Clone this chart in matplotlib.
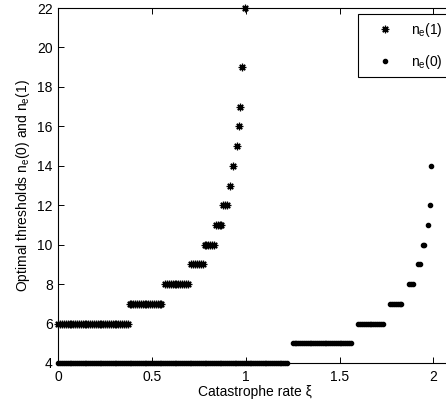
import numpy as np
import matplotlib
matplotlib.use("Agg")
import matplotlib.pyplot as plt
from matplotlib.markers import MarkerStyle

plt.rcParams['font.family'] = ['Liberation Sans', 'DejaVu Sans']
plt.rcParams['mathtext.fontset'] = 'custom'
plt.rcParams['mathtext.rm'] = 'Liberation Sans'
plt.rcParams['mathtext.it'] = 'Liberation Sans:italic'

# ---- data ----
step = 0.01  # sweep resolution of the catastrophe rate

# n_e(1): flat levels (level, first x, last x), then isolated points near xi = 1
ne1_levels = [6, 7, 8, 9, 10, 11, 12]
ne1_start = [0.00, 0.38, 0.57, 0.71, 0.78, 0.84, 0.88]
ne1_end = [0.37, 0.55, 0.69, 0.77, 0.83, 0.87, 0.90]
ne1_tail_x = [0.915, 0.933, 0.951, 0.962, 0.969, 0.981, 0.996]
ne1_tail_y = [13, 14, 15, 16, 17, 19, 22]

# n_e(0)
ne0_levels = [4, 5, 6, 7, 8]
ne0_start = [0.00, 1.25, 1.60, 1.77, 1.87]
ne0_end = [1.22, 1.56, 1.73, 1.83, 1.89]
ne0_tail_x = [1.92, 1.93, 1.945, 1.95, 1.97, 1.985, 1.99]
ne0_tail_y = [9, 9, 10, 10, 11, 12, 14]

x_ticks = [0, 0.5, 1, 1.5, 2]
x_ticklabels = ['0', '0.5', '1', '1.5', '2']
y_ticks = [4, 6, 8, 10, 12, 14, 16, 18, 20, 22]


def expand(levels, starts, ends, tx, ty):
    xs, ys = [], []
    for lv, a, b in zip(levels, starts, ends):
        n = int(round((b - a) / step)) + 1
        seg = a + step * np.arange(n)
        xs.extend(seg)
        ys.extend([lv] * n)
    xs.extend(tx)
    ys.extend(ty)
    return np.array(xs), np.array(ys)


x1, y1 = expand(ne1_levels, ne1_start, ne1_end, ne1_tail_x, ne1_tail_y)
x0, y0 = expand(ne0_levels, ne0_start, ne0_end, ne0_tail_x, ne0_tail_y)

W, H = 446, 409
fig = plt.figure(figsize=(W / 100, H / 100), dpi=100)
left, right, top, bottom = 58.3, 452.0, 8.0, 363.0
ax = fig.add_axes([left / W, 1 - bottom / H, (right - left) / W, (bottom - top) / H])

ast = MarkerStyle((8, 2, 0))
ax.plot(x1, y1, linestyle='none', marker=ast, markersize=5.4, markeredgewidth=0.9,
        color='black', clip_on=False, label=r'n$_\mathrm{e}$(1)')
ax.plot(x0, y0, linestyle='none', marker='.', markersize=6, color='black',
        clip_on=False, label=r'n$_\mathrm{e}$(0)')

ax.set_xlim(0, 2.1)
ax.set_ylim(4, 22)
ax.set_xticks(x_ticks)
ax.set_xticklabels(x_ticklabels)
ax.set_yticks(y_ticks)
ax.tick_params(direction='in', length=4, width=0.7, top=True, right=True,
               labelsize=10, colors='black')
ax.tick_params(axis='x', pad=5)
ax.tick_params(axis='y', pad=4)
for s in ax.spines.values():
    s.set_linewidth(0.8)
    s.set_color('black')

ax.set_xlabel('Catastrophe rate ξ', fontsize=10)
ax.xaxis.set_label_coords(0.5, -0.062)
ax.xaxis.label.set_va('top')
ax.set_ylabel(r'Optimal thresholds n$_\mathrm{e}$(0) and n$_\mathrm{e}$(1)', fontsize=10)
ax.yaxis.set_label_coords(-0.066, 0.5)

leg = fig.legend(loc='upper left', bbox_to_anchor=(357.7 / W, 1 - 14.3 / H),
                 bbox_transform=fig.transFigure, borderaxespad=0,
                 fontsize=10, numpoints=1, handlelength=3.0, handletextpad=0.4,
                 borderpad=0.45, labelspacing=1.05, fancybox=False, framealpha=1,
                 edgecolor='black')
leg.get_frame().set_linewidth(0.8)

fig.savefig('out.png', dpi=100)
